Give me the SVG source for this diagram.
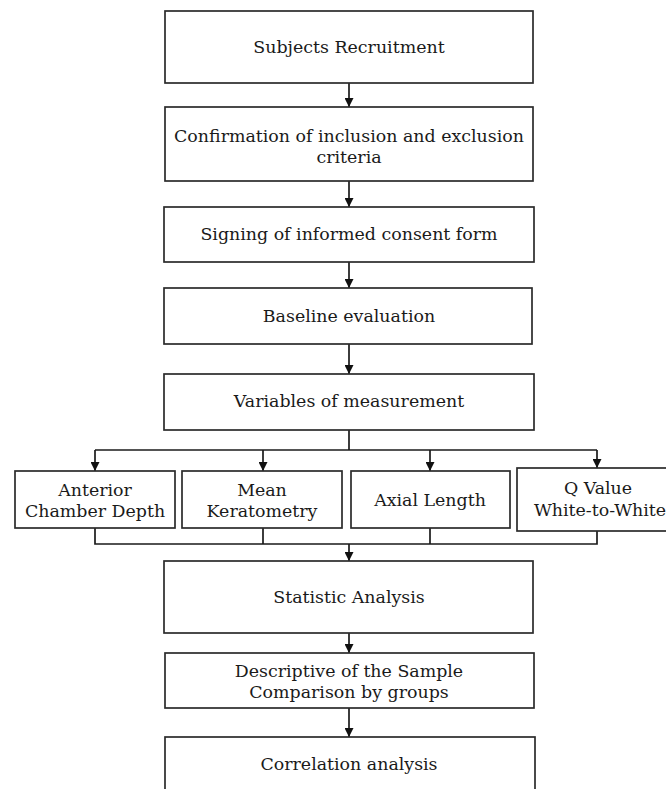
<svg xmlns="http://www.w3.org/2000/svg" width="666" height="789" viewBox="0 0 666 789">
  <style>
    .box { fill: #ffffff; stroke: #2b2b2b; stroke-width: 1.7; }
    .lbl { font-family: "DejaVu Serif", "Liberation Serif", serif; font-size: 17.4px; fill: #1a1a1a; text-anchor: middle; }
    .wire { fill: none; stroke: #1a1a1a; stroke-width: 1.7; }
  </style>
  <defs>
    <marker id="arrow" viewBox="0 0 10 10" refX="10" refY="5" markerWidth="10" markerHeight="9" markerUnits="userSpaceOnUse" orient="auto">
      <path d="M0,0 L10,5 L0,10 Z" fill="#111111"/>
    </marker>
  </defs>
  <rect width="666" height="789" fill="#ffffff"/>

  <g id="connectors">
    <line class="wire" x1="349" y1="83" x2="349" y2="107" marker-end="url(#arrow)"/>
    <line class="wire" x1="349" y1="181" x2="349" y2="207" marker-end="url(#arrow)"/>
    <line class="wire" x1="349" y1="262" x2="349" y2="288" marker-end="url(#arrow)"/>
    <line class="wire" x1="349" y1="344" x2="349" y2="374" marker-end="url(#arrow)"/>
    <!-- fan-out to the four measurement variables -->
    <polyline class="wire" points="349,430 349,450"/>
    <line class="wire" x1="95" y1="450" x2="597" y2="450"/>
    <line class="wire" x1="95" y1="450" x2="95" y2="471" marker-end="url(#arrow)"/>
    <line class="wire" x1="263" y1="450" x2="263" y2="471" marker-end="url(#arrow)"/>
    <line class="wire" x1="430" y1="450" x2="430" y2="471" marker-end="url(#arrow)"/>
    <line class="wire" x1="597" y1="450" x2="597" y2="468" marker-end="url(#arrow)"/>
    <!-- fan-in to the analysis -->
    <polyline class="wire" points="95,528 95,544 597,544 597,531"/>
    <line class="wire" x1="263" y1="528" x2="263" y2="544"/>
    <line class="wire" x1="430" y1="528" x2="430" y2="544"/>
    <line class="wire" x1="349" y1="544" x2="349" y2="561" marker-end="url(#arrow)"/>
    <line class="wire" x1="349" y1="633" x2="349" y2="653" marker-end="url(#arrow)"/>
    <line class="wire" x1="349" y1="708" x2="349" y2="737" marker-end="url(#arrow)"/>
  </g>

  <g id="recruitment">
    <rect class="box" x="165" y="11" width="368" height="72"/>
    <text class="lbl" x="349" y="53">Subjects Recruitment</text>
  </g>
  <g id="criteria">
    <rect class="box" x="165" y="107" width="368" height="74"/>
    <text class="lbl" x="349" y="142">Confirmation of inclusion and exclusion</text>
    <text class="lbl" x="349" y="163">criteria</text>
  </g>
  <g id="consent">
    <rect class="box" x="164" y="207" width="370" height="55"/>
    <text class="lbl" x="349" y="240">Signing of informed consent form</text>
  </g>
  <g id="baseline">
    <rect class="box" x="164" y="288" width="368" height="56"/>
    <text class="lbl" x="349" y="322">Baseline evaluation</text>
  </g>
  <g id="variables">
    <rect class="box" x="164" y="374" width="370" height="56"/>
    <text class="lbl" x="349" y="407">Variables of measurement</text>
  </g>
  <g id="acd">
    <rect class="box" x="15" y="471" width="160" height="57"/>
    <text class="lbl" x="95" y="496">Anterior</text>
    <text class="lbl" x="95" y="517">Chamber Depth</text>
  </g>
  <g id="keratometry">
    <rect class="box" x="182" y="471" width="160" height="57"/>
    <text class="lbl" x="262" y="496">Mean</text>
    <text class="lbl" x="262" y="517">Keratometry</text>
  </g>
  <g id="axial">
    <rect class="box" x="351" y="471" width="159" height="57"/>
    <text class="lbl" x="430" y="506">Axial Length</text>
  </g>
  <g id="qvalue">
    <rect class="box" x="517" y="468" width="160" height="63"/>
    <text class="lbl" x="598" y="494">Q Value</text>
    <text class="lbl" x="600" y="516">White-to-White</text>
  </g>
  <g id="statistics">
    <rect class="box" x="164" y="561" width="369" height="72"/>
    <text class="lbl" x="349" y="603">Statistic Analysis</text>
  </g>
  <g id="descriptive">
    <rect class="box" x="165" y="653" width="369" height="55"/>
    <text class="lbl" x="349" y="677">Descriptive of the Sample</text>
    <text class="lbl" x="349" y="698">Comparison by groups</text>
  </g>
  <g id="correlation">
    <rect class="box" x="165" y="737" width="370" height="70"/>
    <text class="lbl" x="349" y="770">Correlation analysis</text>
  </g>
</svg>
